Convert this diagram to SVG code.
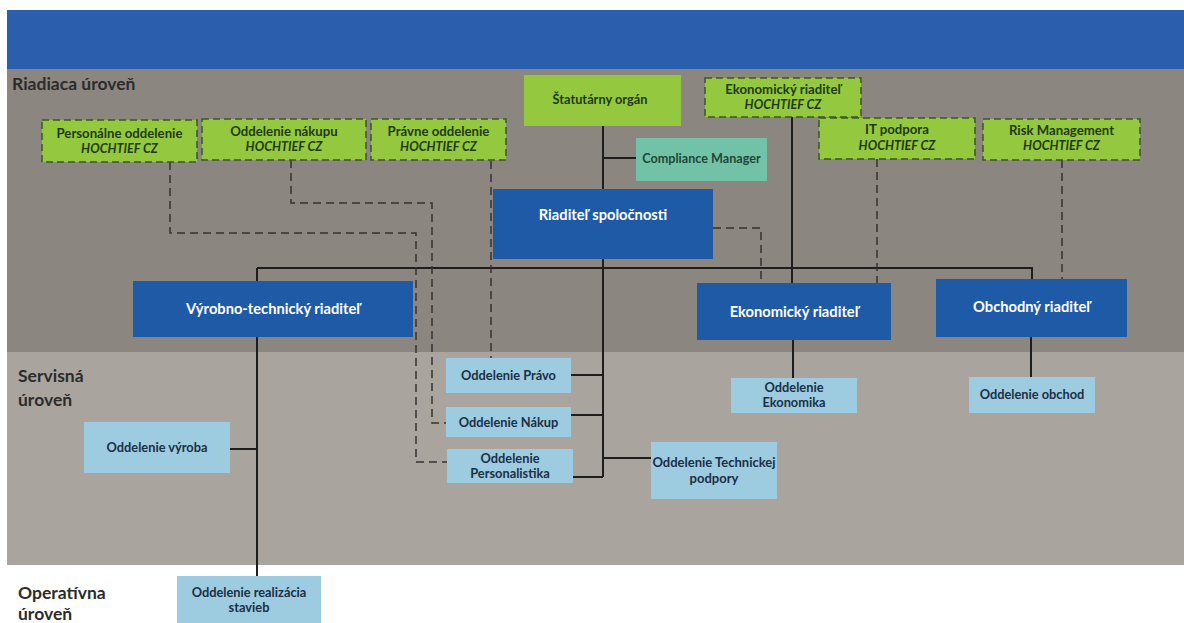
<svg xmlns="http://www.w3.org/2000/svg" width="1184" height="623" viewBox="0 0 1184 623">
<style>
text{font-family:Lato,"Open Sans","Liberation Sans",sans-serif;text-anchor:middle;font-weight:bold}
.lvl{text-anchor:start;fill:#2c2c2c;font-size:17.5px}
.g rect{fill:#93c83f;stroke:#3b5a1f;stroke-width:1.5;stroke-dasharray:7 4}
.g text{fill:#1f3a12;font-size:13.2px}
.g text.i{font-style:italic;font-size:12.6px}
.gs rect{fill:#93c83f}
.gs text{fill:#1f3a12;font-size:12.8px}
.t rect{fill:#72c2a7}
.t text{fill:#1d4838;font-size:12.6px}
.b rect{fill:#1f5aa7}
.b text{fill:#ffffff;font-size:14.7px}
.l rect{fill:#9dcbe0}
.l text{fill:#1b2f45;font-size:12.8px}
.s{fill:none;stroke:#1e1e1e;stroke-width:2}
.d{fill:none;stroke:#333;stroke-width:1.5;stroke-dasharray:8 5}
</style>
<rect x="0" y="0" width="1184" height="623" fill="#ffffff"/>
<rect x="7" y="10" width="1177" height="59" fill="#2b5fae"/>
<rect x="7" y="69" width="1177" height="283" fill="#8b8680"/>
<rect x="7" y="352" width="1177" height="213" fill="#a9a59e"/>
<text class="lvl" x="12" y="90">Riadiaca úroveň</text>
<text class="lvl" x="18" y="382">Servisná</text>
<text class="lvl" x="18" y="406">úroveň</text>
<text class="lvl" x="18" y="599">Operatívna</text>
<text class="lvl" x="18" y="620">úroveň</text>
<g id="connectors">
<path class="s" d="M603,126 V190 M603,158 H636 M603,259 V477 M257,268 H1032 V279 M257,268 V281 M792,117 V283 M571,375 H603 M571,415 H603 M573,477 H603 M603,458 H651 M257,337 V576 M230,449 H257 M793,340 V378 M1031,337 V377"/>
<path class="d" d="M170,162 V233 H416 V462 H447"/>
<path class="d" d="M291,160 V203 H432 V423 H446"/>
<path class="d" d="M491,161 V358"/>
<path class="d" d="M713,228 H761 V283"/>
<path class="d" d="M877,159 V283"/>
<path class="d" d="M1062,160 V279"/>
</g>
<g id="personalne" class="g"><rect x="42" y="120" width="155" height="42"/><text x="119.5" y="138">Personálne oddelenie</text><text class="i" x="119.5" y="153">HOCHTIEF CZ</text></g>
<g id="nakupu" class="g"><rect x="202" y="119" width="164" height="41"/><text x="284" y="136">Oddelenie nákupu</text><text class="i" x="284" y="151">HOCHTIEF CZ</text></g>
<g id="pravne" class="g"><rect x="371" y="119" width="135" height="41"/><text x="438.5" y="136">Právne oddelenie</text><text class="i" x="438.5" y="151">HOCHTIEF CZ</text></g>
<g id="statutarny" class="gs"><rect x="524" y="75" width="157" height="51"/><text x="600" y="104">Štatutárny orgán</text></g>
<g id="ekonomicky-hochtief" class="g"><rect x="705" y="78" width="156" height="39"/><text x="783" y="94">Ekonomický riaditeľ</text><text class="i" x="783" y="109">HOCHTIEF CZ</text></g>
<g id="it-podpora" class="g"><rect x="819" y="118" width="156" height="41"/><text x="897" y="134">IT podpora</text><text class="i" x="897" y="150">HOCHTIEF CZ</text></g>
<g id="risk" class="g"><rect x="983" y="119" width="157" height="41"/><text x="1061.5" y="135">Risk Management</text><text class="i" x="1061.5" y="150">HOCHTIEF CZ</text></g>
<g id="compliance" class="t"><rect x="636" y="138" width="131" height="43"/><text x="701.5" y="163">Compliance Manager</text></g>
<g id="riaditel" class="b"><rect x="493" y="189" width="220" height="70"/><text x="603" y="220">Riaditeľ spoločnosti</text></g>
<g id="vyrobno" class="b"><rect x="133" y="281" width="280" height="56"/><text x="273" y="314">Výrobno-technický riaditeľ</text></g>
<g id="ekonomicky" class="b"><rect x="697" y="283" width="194" height="57"/><text x="794" y="317">Ekonomický riaditeľ</text></g>
<g id="obchodny" class="b"><rect x="936" y="279" width="191" height="58"/><text x="1031.5" y="312">Obchodný riaditeľ</text></g>
<g id="pravo" class="l"><rect x="446" y="358" width="125" height="35"/><text x="508.5" y="380">Oddelenie Právo</text></g>
<g id="nakup" class="l"><rect x="446" y="407" width="125" height="30"/><text x="508.5" y="427">Oddelenie Nákup</text></g>
<g id="personalistika" class="l"><rect x="447" y="449" width="126" height="34"/><text x="510" y="463">Oddelenie</text><text x="510" y="478">Personalistika</text></g>
<g id="technickej" class="l"><rect x="651" y="442" width="126" height="57"/><text x="714" y="467" style="font-size:13px">Oddelenie Technickej</text><text x="714" y="483" style="font-size:13px">podpory</text></g>
<g id="ekonomika" class="l"><rect x="731" y="378" width="126" height="35"/><text x="794" y="392">Oddelenie</text><text x="794" y="407">Ekonomika</text></g>
<g id="obchod" class="l"><rect x="969" y="377" width="126" height="36"/><text x="1032" y="399">Oddelenie obchod</text></g>
<g id="vyroba" class="l"><rect x="84" y="422" width="146" height="51"/><text x="157" y="452">Oddelenie výroba</text></g>
<g id="realizacia" class="l"><rect x="177" y="576" width="144" height="50"/><text x="249" y="597">Oddelenie realizácia</text><text x="249" y="612">stavieb</text></g>
</svg>
